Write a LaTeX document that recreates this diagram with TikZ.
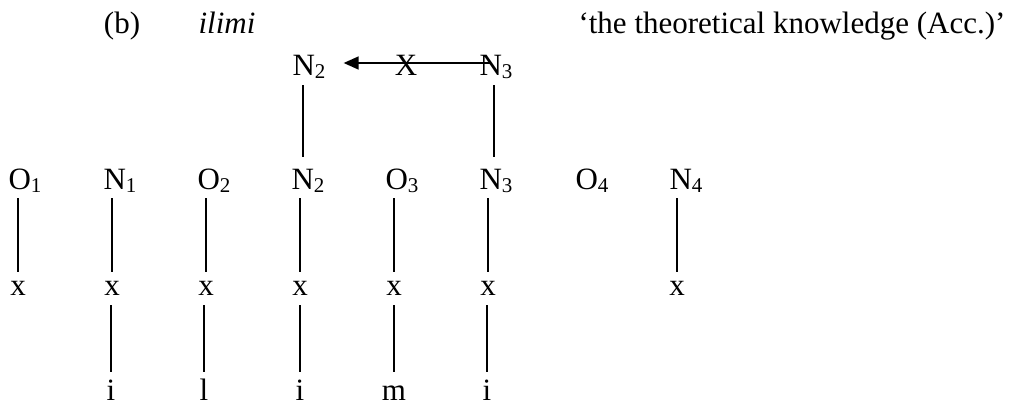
\documentclass[tikz,border=0pt]{standalone}
\usepackage{fontspec}
\setmainfont{Liberation Serif}
\usetikzlibrary{arrows.meta,calc}
\newcommand\sbs[1]{\raisebox{-3pt}{\fontsize{21}{21}\selectfont #1}}
\begin{document}
\begin{tikzpicture}[x=1pt,y=-1pt,
  every node/.style={inner sep=0pt,font=\fontsize{31}{37}\selectfont},
  big/.style={anchor=base,text height=21pt,text depth=4pt},
  small/.style={anchor=base,text height=14pt,text depth=0pt},
  tall/.style={anchor=base,text height=21pt,text depth=0pt},
  ln/.style={line width=1.5pt},
  segB/.style={ln,shorten <=5pt,shorten >=9pt},
  segC/.style={ln,shorten <=10pt,shorten >=7pt}]
\useasboundingbox (0,0) rectangle (1018,407);
% header
\node[anchor=base] (lab) at (122,33) {(b)};
\node[anchor=base] (word) at (227,33) {\itshape ilimi};
\node[anchor=base] (gloss) at (792,33) {‘the theoretical knowledge (Acc.)’};
% top row
\node[big] (T2) at (309,75) {N\sbs{2}};
\node[big] (T3) at (496,75) {N\sbs{3}};
\node[anchor=base] (X) at (406,75) {X};
% middle row
\node[big] (O1) at (25,189) {O\sbs{1}};
\node[big] (N1) at (120,189) {N\sbs{1}};
\node[big] (O2) at (214,189) {O\sbs{2}};
\node[big] (N2) at (308,189) {N\sbs{2}};
\node[big] (O3) at (402,189) {O\sbs{3}};
\node[big] (N3) at (496,189) {N\sbs{3}};
\node[big] (O4) at (592,189) {O\sbs{4}};
\node[big] (N4) at (686,189) {N\sbs{4}};
% x row
\node[small] (x1) at (18,295) {x};
\node[small] (x2) at (112,295) {x};
\node[small] (x3) at (206,295) {x};
\node[small] (x4) at (300,295) {x};
\node[small] (x5) at (394,295) {x};
\node[small] (x6) at (488,295) {x};
\node[small] (x8) at (677,295) {x};
% bottom row
\node[tall] (s1) at (111,400) {i};
\node[tall] (s2) at (204,400) {l};
\node[tall] (s3) at (300,400) {i};
\node[tall] (s4) at (394,400) {m};
\node[tall] (s5) at (487,400) {i};
% arrow
\draw[ln,-{Triangle[length=15pt,width=13pt]}]
  ($(T3.base west)+(12,-12)$) -- ($(T2.base east)+(18,-12)$);
% top verticals
\draw[ln] ($(T2.south)+(-6,6)$) -- ($(T2.south |- N2.north)+(-6,-11)$);
\draw[ln] ($(T3.south)+(-2,6)$) -- ($(T3.south |- N3.north)+(-2,-11)$);
% middle verticals
\draw[segB] (x1 |- O1.south) -- (x1.north);
\draw[segB] (x2 |- N1.south) -- (x2.north);
\draw[segB] (x3 |- O2.south) -- (x3.north);
\draw[segB] (x4 |- N2.south) -- (x4.north);
\draw[segB] (x5 |- O3.south) -- (x5.north);
\draw[segB] (x6 |- N3.south) -- (x6.north);
\draw[segB] (x8 |- N4.south) -- (x8.north);
% lower verticals
\draw[segC] (s1 |- x2.south) -- (s1.north);
\draw[segC] (s2 |- x3.south) -- (s2.north);
\draw[segC] (s3 |- x4.south) -- (s3.north);
\draw[segC] (s4 |- x5.south) -- (s4.north);
\draw[segC] (s5 |- x6.south) -- (s5.north);
\end{tikzpicture}
\end{document}
